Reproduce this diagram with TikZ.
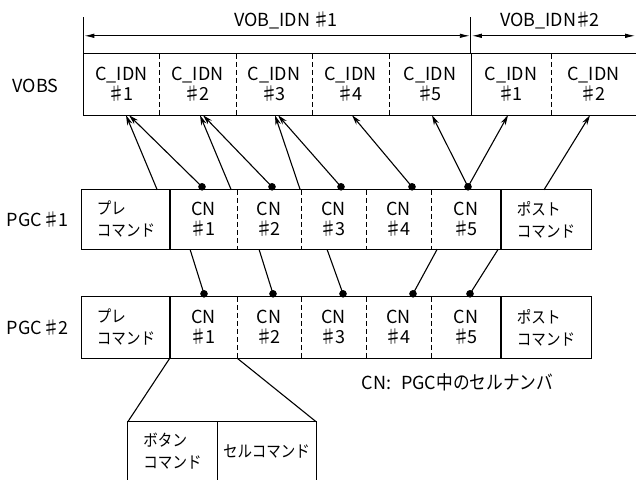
\documentclass[tikz,border=0pt]{standalone}
\usepackage{fontspec}
\setmainfont{Noto Sans CJK JP}
\newfontfamily\jpf{Noto Sans CJK JP}[FakeStretch=0.88]
\newcommand{\shp}{\kern-2pt♯\kern-2.5pt}
\usetikzlibrary{arrows.meta,calc}
\begin{document}
\begin{tikzpicture}[x=1pt,y=-1pt,
  cell/.style={rectangle, inner sep=0pt, align=center},
  lat/.style={font=\fontsize{18}{20}\selectfont},
  jp/.style={font=\jpf\fontsize{16.5}{22}\selectfont},
  frame/.style={line width=1.1pt},
  divd/.style={line width=1.1pt, dash pattern=on 5pt off 3pt},
  link/.style={line width=1.1pt, -{Stealth[length=10pt,width=5.5pt]}},
  plain/.style={line width=1.1pt},
  tick/.style={line width=0.9pt},
  dim/.style={line width=0.9pt, {Latex[length=10pt,width=4.5pt]}-{Latex[length=10pt,width=4.5pt]}},
]
\useasboundingbox (0,0) rectangle (636,479);

% ---- VOBS row
\node[cell,lat,minimum width=75pt,minimum height=61pt] (v1) at (121.5,84.5) {C\_IDN\\\shp1};
\node[cell,lat,minimum width=77pt,minimum height=61pt] (v2) at (197.5,84.5) {C\_IDN\\\shp2};
\node[cell,lat,minimum width=76pt,minimum height=61pt] (v3) at (274,84.5) {C\_IDN\\\shp3};
\node[cell,lat,minimum width=77pt,minimum height=61pt] (v4) at (350.5,84.5) {C\_IDN\\\shp4};
\node[cell,lat,minimum width=82pt,minimum height=61pt] (v5) at (430,84.5) {C\_IDN\\\shp5};
\node[cell,lat,minimum width=80pt,minimum height=61pt] (v6) at (511,84.5) {C\_IDN\\\shp1};
\node[cell,lat,minimum width=85pt,minimum height=61pt] (v7) at (593.5,84.5) {C\_IDN\\\shp2};
\draw[frame] (v7.north east) -- (v1.north west) -- (v1.south west) -- (v7.south east);
\foreach \c in {v1,v2,v3,v4,v6} \draw[divd] (\c.north east) -- (\c.south east);
\draw[frame] (v5.north east) -- (v5.south east);
\node[lat] (vobs) at (35.5,86) {VOBS};

% ---- dimension lines
\draw[tick] (v1.north west) -- ++(0,-37);
\draw[tick] (v6.north west) -- ++(0,-37);
\coordinate (dl1) at ($(v1.north west)+(0.5,-18)$);
\coordinate (dl2) at ($(v6.north west)+(-1,-18)$);
\coordinate (dl3) at ($(v6.north west)+(1,-18)$);
\coordinate (dl4) at ($(v7.north east)+(-1,-18)$);
\draw[dim] (dl1) -- (dl2);
\draw[dim] (dl3) -- (dl4);
\node[lat] (vob1) at (286,20) {VOB\_IDN \shp1};
\node[lat] (vob2) at (550,20) {VOB\_IDN\shp2};

% ---- PGC#1 row
\node[cell,jp,align=left,minimum width=88pt,minimum height=59pt] (pre1) at (126,219.5) {プレ\\コマンド};
\node[cell,lat,minimum width=67pt,minimum height=59pt] (c11) at (203.5,219.5) {CN\\\shp1};
\node[cell,lat,minimum width=64pt,minimum height=59pt] (c12) at (269,219.5) {CN\\\shp2};
\node[cell,lat,minimum width=65pt,minimum height=59pt] (c13) at (333.5,219.5) {CN\\\shp3};
\node[cell,lat,minimum width=65pt,minimum height=59pt] (c14) at (398.5,219.5) {CN\\\shp4};
\node[cell,lat,minimum width=70pt,minimum height=59pt] (c15) at (466,219.5) {CN\\\shp5};
\node[cell,jp,align=left,minimum width=90pt,minimum height=59pt] (post1) at (546,219.5) {ポスト\\コマンド};
\draw[frame] (pre1.north west) rectangle (pre1.south east);
\draw[frame] (c11.north west) rectangle (c15.south east);
\draw[frame] (post1.north west) rectangle (post1.south east);
\foreach \c in {c11,c12,c13,c14} \draw[divd] (\c.north east) -- (\c.south east);
\node[lat,anchor=east] (pgc1) at (72,220) {PGC\,\shp1};

% ---- PGC#2 row
\node[cell,jp,align=left,minimum width=88pt,minimum height=61pt] (pre2) at (126,327.5) {プレ\\コマンド};
\node[cell,lat,minimum width=67pt,minimum height=61pt] (c21) at (203.5,327.5) {CN\\\shp1};
\node[cell,lat,minimum width=64pt,minimum height=61pt] (c22) at (269,327.5) {CN\\\shp2};
\node[cell,lat,minimum width=65pt,minimum height=61pt] (c23) at (333.5,327.5) {CN\\\shp3};
\node[cell,lat,minimum width=65pt,minimum height=61pt] (c24) at (398.5,327.5) {CN\\\shp4};
\node[cell,lat,minimum width=70pt,minimum height=61pt] (c25) at (466,327.5) {CN\\\shp5};
\node[cell,jp,align=left,minimum width=90pt,minimum height=61pt] (post2) at (546,327.5) {ポスト\\コマンド};
\draw[frame] (pre2.north west) rectangle (pre2.south east);
\draw[frame] (c21.north west) rectangle (c25.south east);
\draw[frame] (post2.north west) rectangle (post2.south east);
\foreach \c in {c21,c22,c23,c24} \draw[divd] (\c.north east) -- (\c.south east);
\node[lat,anchor=east] (pgc2) at (72,328) {PGC\,\shp2};

% ---- dots
\coordinate (d11) at ($(c11.north)+(-1.5,-3)$);
\coordinate (d12) at ($(c12.north)+(3,-3)$);
\coordinate (d13) at ($(c13.north)+(7.5,-3)$);
\coordinate (d14) at ($(c14.north)+(13.5,-3)$);
\coordinate (d15) at ($(c15.north)+(2,-3)$);
\coordinate (d21) at ($(c21.north)+(0.5,-3)$);
\coordinate (d22) at ($(c22.north)+(4,-3)$);
\coordinate (d23) at ($(c23.north)+(9.5,-3)$);
\coordinate (d24) at ($(c24.north)+(14.5,-3)$);
\coordinate (d25) at ($(c25.north)+(4,-3)$);

% ---- arrows PGC#1 -> VOBS
\draw[link] ($(pre1.north east)+(-13,0)$) -- ($(v1.south)+(4.5,0)$);
\draw[link] (d11) -- ($(v1.south)+(7.5,0)$);
\draw[link] ($(c11.north east)+(-6,0)$) -- ($(v2.south)+(2.5,0)$);
\draw[link] (d12) -- ($(v2.south)+(5.5,0)$);
\draw[link] ($(c12.north east)+(-1,0)$) -- ($(v3.south)+(1,0)$);
\draw[link] (d13) -- ($(v3.south)+(4,0)$);
\draw[link] (d14) -- ($(v4.south)+(1.5,0)$);
\draw[link] (d15) -- ($(v5.south)+(2,0)$);
\draw[link] (d15) -- ($(v6.south)+(-3,0)$);
\draw[link] ($(post1.north)+(-2,0)$) -- ($(v7.south)+(-3.5,0)$);

% ---- lines PGC#1 -> PGC#2
\draw[plain] ($(c11.south)+(-13.5,0)$) -- (d21);
\draw[plain] ($(c12.south)+(-10,0)$) -- (d22);
\draw[plain] ($(c13.south)+(-6.5,0)$) -- (d23);
\draw[plain] ($(c14.south east)+(6,0)$) -- (d24);
\draw[plain] ($(c15.south east)+(-3,0)$) -- (d25);

\foreach \d in {d11,d12,d13,d14,d15,d21,d22,d23,d24,d25} \fill (\d) circle (3.8pt);

% ---- note
\node[anchor=west] (note) at (358,382) {{\fontsize{18}{20}\selectfont CN:\hspace{10pt}PGC}{\jpf\fontsize{19}{20}\selectfont 中のセルナンバ}};

% ---- cell command detail
\node[cell,jp,align=left,minimum width=89pt,minimum height=58pt] (btn) at (172.5,451) {ボタン\\コマンド};
\node[cell,jp,minimum width=99pt,minimum height=58pt] (cellcmd) at (266.5,451) {セルコマンド};
\draw[frame] (btn.south west) -- (btn.north west) -- (cellcmd.north east) -- (cellcmd.south east);
\draw[frame] (btn.north east) -- (btn.south east);
\draw[plain] (c21.south west) -- (btn.north west);
\draw[plain] (c21.south east) -- (cellcmd.north east);
\end{tikzpicture}
\end{document}
